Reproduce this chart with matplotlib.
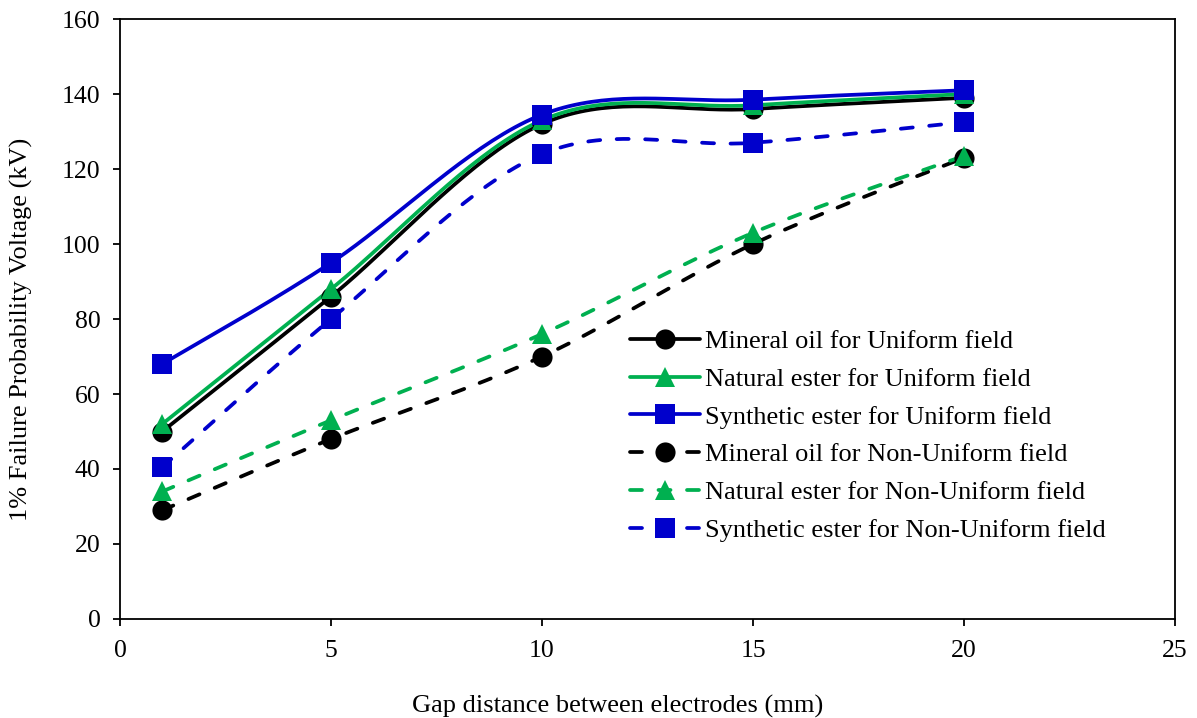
import numpy as np
import matplotlib
matplotlib.use("Agg")
import matplotlib.pyplot as plt
from matplotlib.lines import Line2D

plt.rcParams['font.family'] = ['Liberation Serif', 'DejaVu Serif']

gap_mm = [1, 5, 10, 15, 20]

mineral_uniform = [50, 86, 132, 136, 139]
natural_uniform = [52, 88, 133, 137, 140]
synthetic_uniform = [68, 95, 134.5, 138.5, 141]
mineral_nonuniform = [29, 48, 70, 100, 123]
natural_nonuniform = [34, 53, 76, 103, 123.5]
synthetic_nonuniform = [40.5, 80, 124, 127, 132.5]

labels = [
    "Mineral oil for Uniform field",
    "Natural ester for Uniform field",
    "Synthetic ester for Uniform field",
    "Mineral oil for Non-Uniform field",
    "Natural ester for Non-Uniform field",
    "Synthetic ester for Non-Uniform field",
]

BLACK = "#000000"
GREEN = "#00B050"
BLUE = "#0000CC"
DASH = (0, (3.2, 4.4))


def smooth(xs, ys, n=40):
    """Catmull-Rom style Bezier smoothing through the given points."""
    x = np.asarray(xs, float)
    y = np.asarray(ys, float)
    P = np.column_stack([x, y])
    m = len(P)
    out = []
    for i in range(m - 1):
        p0 = P[i - 1] if i > 0 else P[i]
        p1 = P[i]
        p2 = P[i + 1]
        p3 = P[i + 2] if i + 2 < m else P[i + 1]
        c1 = p1 + (p2 - p0) / 6.0
        c2 = p2 - (p3 - p1) / 6.0
        t = np.linspace(0, 1, n)[:, None]
        seg = ((1 - t) ** 3) * p1 + 3 * ((1 - t) ** 2) * t * c1 + 3 * (1 - t) * t ** 2 * c2 + t ** 3 * p2
        if i > 0:
            seg = seg[1:]
        out.append(seg)
    pts = np.vstack(out)
    return pts[:, 0], pts[:, 1]


fig = plt.figure(figsize=(11.97, 7.18), dpi=100)
ax = fig.add_axes([0.1003, 0.1379, 0.8813, 0.8356])

series = [
    (mineral_uniform, BLACK, "o", "-"),
    (natural_uniform, GREEN, "^", "-"),
    (synthetic_uniform, BLUE, "s", "-"),
    (mineral_nonuniform, BLACK, "o", "--"),
    (natural_nonuniform, GREEN, "^", "--"),
    (synthetic_nonuniform, BLUE, "s", "--"),
]
msize = {"o": 14.5, "^": 14.5, "s": 14.0}

handles = []
for (vals, color, mk, ls), lab in zip(series, labels):
    sx, sy = smooth(gap_mm, vals)
    style = "-" if ls == "-" else DASH
    ax.plot(sx, sy, color=color, lw=2.7, linestyle=style,
            solid_capstyle="round", dash_capstyle="round", zorder=2)
    ax.plot(gap_mm, vals, linestyle="none", marker=mk, markersize=msize[mk],
            color=color, markeredgecolor=color, markeredgewidth=0, zorder=3)
    handles.append(Line2D([0], [0], color=color, lw=2.7, linestyle=style,
                          dash_capstyle="round", solid_capstyle="round",
                          marker=mk, markersize=msize[mk], markeredgewidth=0,
                          markeredgecolor=color, label=lab))

ax.set_xlim(0, 25)
ax.set_ylim(0, 160)
ax.set_xticks([0, 5, 10, 15, 20, 25])
ax.set_yticks(np.arange(0, 161, 20))
ax.tick_params(axis="both", direction="out", length=5, width=1.3,
               labelsize=18.5, top=False, right=False)
ax.tick_params(axis="x", pad=10)
ax.tick_params(axis="y", pad=9)
for sp in ax.spines.values():
    sp.set_linewidth(1.3)
    sp.set_color("black")

ax.set_xlabel("Gap distance between electrodes (mm)", fontsize=19)
ax.xaxis.set_label_coords(0.472, -0.126)
ax.set_ylabel("1% Failure Probability Voltage (kV)", fontsize=19)
ax.yaxis.set_label_coords(-0.0825, 0.483)

ax.legend(handles=handles, loc="upper left", bbox_to_anchor=(0.483, 0.482),
          frameon=False, fontsize=19, handlelength=2.65, handletextpad=0.22,
          labelspacing=0.54, borderaxespad=0, borderpad=0)

fig.savefig("out.png", dpi=100)
